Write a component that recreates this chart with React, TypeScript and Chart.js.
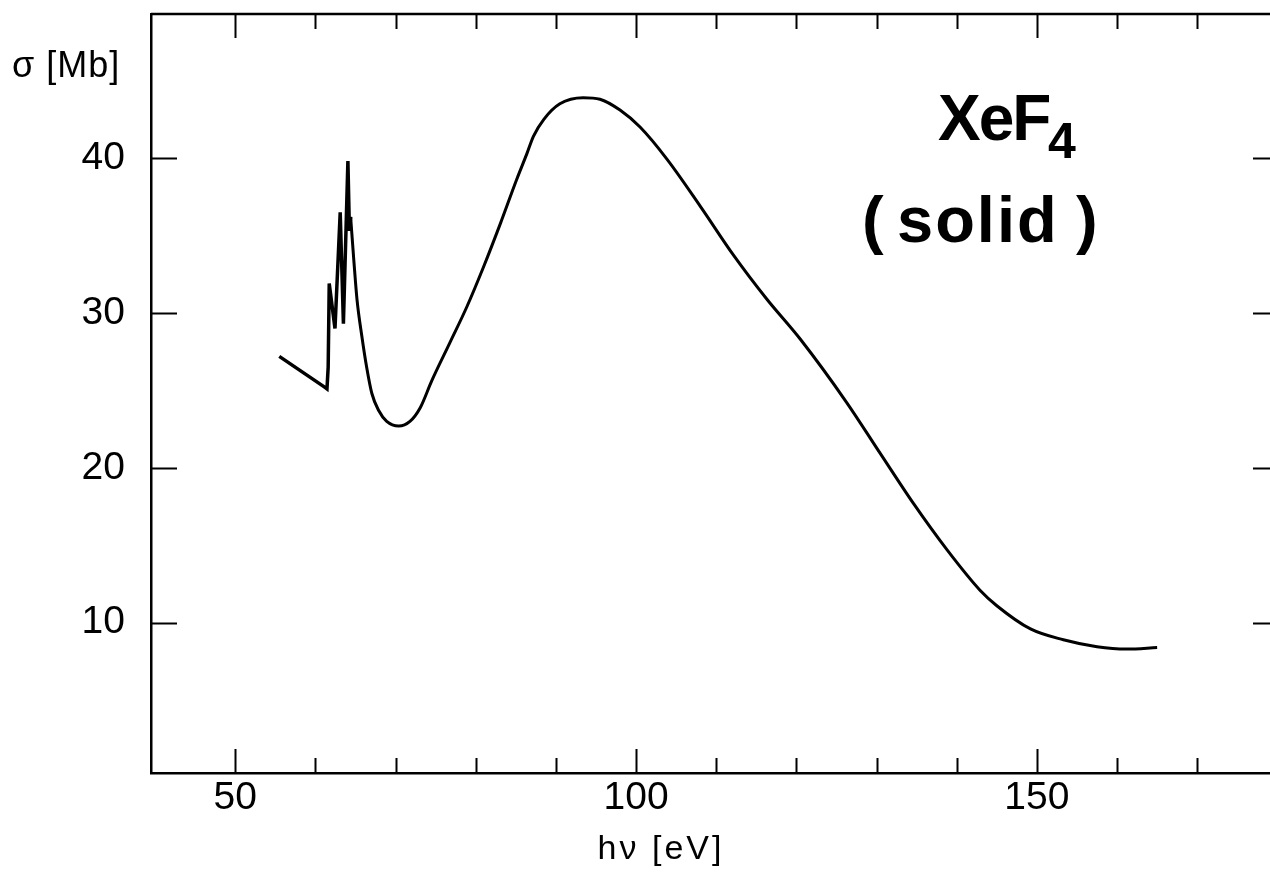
import React, { useEffect, useRef } from 'react';
import { Chart, registerables } from 'chart.js';

Chart.register(...registerables);

// Sharp resonance structure near the Xe 4d edge (drawn with straight segments)
const spikeEnergy = [55.5, 61.2, 61.45, 61.6, 61.73, 62.45, 63.1, 63.5, 64.06, 64.25, 64.4];
const spikeSigma = [27.2, 25.2, 25.1, 26.5, 31.9, 29.0, 36.5, 29.3, 39.8, 35.3, 36.2];

// Smooth part of the cross section
const smoothEnergy = [
  64.4, 64.8, 65.2, 65.8, 66.4, 67.05, 67.9, 68.9, 70.4, 71.8, 73.1, 74.5, 76.8, 78.9,
  81.0, 83.1, 85.1, 86.4, 87.2, 88.5, 90.5, 93.4, 95.5, 98.0, 100.5, 103.9, 108.0,
  112.2, 116.3, 120.5, 126.3, 130.5, 134.6, 138.8, 142.9, 145.0, 149.2, 153.3,
  157.5, 161.2, 165.0,
];
const smoothSigma = [
  36.2, 33.4, 30.85, 28.5, 26.5, 24.8, 23.7, 23.0, 22.7, 23.0, 23.9, 25.6, 28.1, 30.4,
  33.0, 35.8, 38.6, 40.3, 41.4, 42.5, 43.5, 43.9, 43.8, 43.1, 42.0, 39.9, 36.9,
  33.7, 30.9, 28.3, 24.2, 20.9, 17.7, 14.7, 12.1, 11.1, 9.6, 8.9,
  8.45, 8.3, 8.4,
];

const xTickValues = [50, 60, 70, 80, 90, 100, 110, 120, 130, 140, 150, 160, 170];
const xLabelValues = [50, 100, 150];
const yTickValues = [10, 20, 30, 40];

const xMin = 39.5;
const xMax = 180.2;
const yMin = 0.3;
const yMax = 49.3;

const FONT = "'Liberation Sans', Arial, sans-serif";

const framePlugin = {
  id: 'frame',
  afterDraw(chart: any) {
    const { ctx, chartArea: a, scales } = chart;
    ctx.save();
    ctx.strokeStyle = '#000';
    ctx.lineWidth = 2.5;
    ctx.beginPath();
    ctx.moveTo(a.left, a.top);
    ctx.lineTo(a.right, a.top);
    ctx.lineTo(a.right, a.bottom);
    ctx.stroke();

    ctx.lineWidth = 2;
    ctx.beginPath();
    for (const v of xTickValues) {
      const px = Math.round(scales.x.getPixelForValue(v)) + 0.5;
      const len = xLabelValues.includes(v) ? 24 : 15;
      ctx.moveTo(px, a.top);
      ctx.lineTo(px, a.top + len);
      ctx.moveTo(px, a.bottom);
      ctx.lineTo(px, a.bottom - len);
    }
    for (const v of yTickValues) {
      const py = Math.round(scales.y.getPixelForValue(v)) + 0.5;
      ctx.moveTo(a.left, py);
      ctx.lineTo(a.left + 26, py);
      ctx.moveTo(a.right, py);
      ctx.lineTo(a.right - 26, py);
    }
    ctx.stroke();

    ctx.fillStyle = '#000';
    // axis titles
    ctx.textBaseline = 'middle';
    ctx.textAlign = 'left';
    ctx.font = `36px ${FONT}`;
    (ctx as any).letterSpacing = '1px';
    ctx.fillText('σ [Mb]', 12, 67);
    ctx.textAlign = 'center';
    ctx.font = `34px ${FONT}`;
    (ctx as any).letterSpacing = '3px';
    ctx.fillText('hν [eV]', 661, 850);
    (ctx as any).letterSpacing = '0px';

    // annotation
    ctx.textBaseline = 'alphabetic';
    ctx.textAlign = 'left';
    ctx.font = `bold 64px ${FONT}`;
    (ctx as any).letterSpacing = '-2px';
    ctx.fillText('XeF', 938, 140);
    (ctx as any).letterSpacing = '0px';
    ctx.font = `bold 50px ${FONT}`;
    ctx.fillText('4', 1048, 158);

    ctx.font = `bold 65px ${FONT}`;
    ctx.fillText('(', 862, 242);
    (ctx as any).letterSpacing = '2px';
    ctx.fillText('solid', 897, 242);
    (ctx as any).letterSpacing = '0px';
    ctx.fillText(')', 1076, 242);
    ctx.restore();
  },
};

export default function App() {
  const ref = useRef<HTMLCanvasElement | null>(null);

  useEffect(() => {
    if (!ref.current) return;
    const spike = spikeEnergy.map((x, i) => ({ x, y: spikeSigma[i] }));
    const smooth = smoothEnergy.map((x, i) => ({ x, y: smoothSigma[i] }));
    const chart = new Chart(ref.current, {
      type: 'line',
      data: {
        datasets: [
          {
            data: spike,
            borderColor: '#000',
            borderWidth: 3.5,
            pointRadius: 0,
            tension: 0,
            fill: false,
          },
          {
            data: smooth,
            borderColor: '#000',
            borderWidth: 3,
            pointRadius: 0,
            cubicInterpolationMode: 'monotone',
            fill: false,
          },
        ],
      },
      options: {
        animation: false,
        responsive: false,
        devicePixelRatio: 1,
        layout: { padding: { top: 14, right: 11, left: 0, bottom: 0 } },
        plugins: { legend: { display: false }, tooltip: { enabled: false }, title: { display: false } },
        scales: {
          x: {
            type: 'linear',
            min: xMin,
            max: xMax,
            grid: { display: false, drawTicks: false },
            border: { display: true, color: '#000', width: 2.5 },
            afterBuildTicks: (scale: any) => {
              scale.ticks = xTickValues.map((value) => ({ value }));
            },
            afterFit: (scale: any) => {
              scale.height = 101;
              scale.paddingLeft = 0;
              scale.paddingRight = 0;
            },
            ticks: {
              autoSkip: false,
              maxRotation: 0,
              padding: 2,
              color: '#000',
              font: { family: FONT, size: 39 },
              callback: (v: any) => (xLabelValues.includes(Number(v)) ? String(v) : ''),
            },
          },
          y: {
            type: 'linear',
            min: yMin,
            max: yMax,
            grid: { display: false, drawTicks: false },
            border: { display: true, color: '#000', width: 2.5 },
            afterBuildTicks: (scale: any) => {
              scale.ticks = yTickValues.map((value) => ({ value }));
            },
            afterFit: (scale: any) => {
              scale.width = 151;
              scale.paddingTop = 0;
              scale.paddingBottom = 0;
            },
            ticks: {
              autoSkip: false,
              padding: 26,
              color: '#000',
              font: { family: FONT, size: 39 },
              callback: (v: any) => String(v),
            },
          },
        },
      },
      plugins: [framePlugin],
    });
    return () => chart.destroy();
  }, []);

  return (
    <div
      style={{
        position: 'fixed',
        left: 0,
        top: 0,
        width: 1270,
        height: 874,
        overflow: 'hidden',
        background: '#fff',
      }}
    >
      <canvas ref={ref} width={1290} height={874} style={{ display: 'block', width: 1290, height: 874 }} />
    </div>
  );
}
